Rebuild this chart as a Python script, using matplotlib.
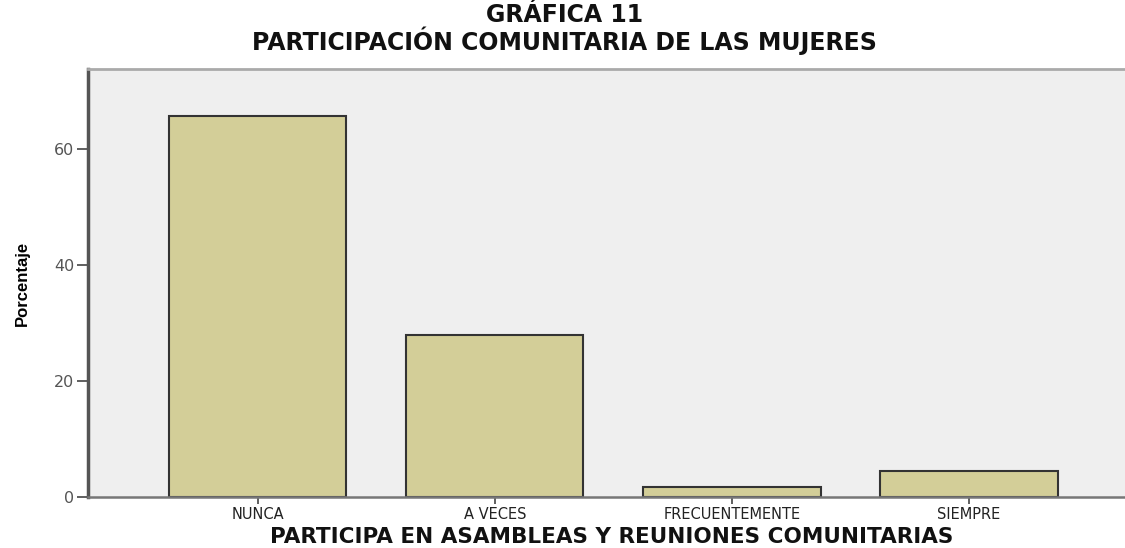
import matplotlib.pyplot as plt

categories = ["NUNCA", "A VECES", "FRECUENTEMENTE", "SIEMPRE"]
porcentaje = [65.7, 27.9, 1.8, 4.5]
yticks = [0, 20, 40, 60]

plt.rcParams["font.family"] = ["DejaVu Sans"]

fig = plt.figure(figsize=(11.25, 5.48), dpi=100)
ax = fig.add_axes([0.0782, 0.0931, 0.9218, 0.781])
ax.set_facecolor("#efefef")

x = range(len(categories))
ax.bar(x, porcentaje, width=0.747, color="#d3ce98", edgecolor="#333333", linewidth=1.5, zorder=2)

ax.set_xlim(-0.717, 3.658)
ax.set_ylim(0, 73.8)
ax.set_xticks(list(x))
ax.set_xticklabels(categories, fontsize=10.5, color="#222222")
ax.set_yticks(yticks)
ax.set_yticklabels([str(t) for t in yticks], fontsize=11.5, color="#555555")

ax.tick_params(axis="y", length=8, width=1.2, color="#444444", pad=2)
ax.tick_params(axis="x", length=5, width=1.2, color="#444444", pad=2)

ax.spines["left"].set_color("#555555")
ax.spines["left"].set_linewidth(2.5)
ax.spines["bottom"].set_color("#777777")
ax.spines["bottom"].set_linewidth(1.8)
ax.spines["top"].set_color("#aaaaaa")
ax.spines["top"].set_linewidth(2)
ax.spines["right"].set_visible(False)

ax.set_xlabel("PARTICIPA EN ASAMBLEAS Y REUNIONES COMUNITARIAS", fontsize=15.5, fontweight="bold",
              va="baseline", color="#111111")
ax.xaxis.set_label_coords(0.505, -(543 - 497) / 428)
ax.set_ylabel("Porcentaje", fontsize=12, fontweight="bold", family=["Liberation Sans Narrow", "Liberation Sans"],
              stretch="condensed", va="center")
ax.yaxis.set_label_coords(-0.063, 0.5)

fig.text(0.502, 1 - 22 / 548, "GRÁFICA 11", ha="center", va="baseline",
         fontsize=17, fontweight="bold", color="#111111")
fig.text(0.502, 1 - 50 / 548, "PARTICIPACIÓN COMUNITARIA DE LAS MUJERES", ha="center", va="baseline",
         fontsize=17, fontweight="bold", color="#111111")

fig.savefig("out.png", dpi=100)
